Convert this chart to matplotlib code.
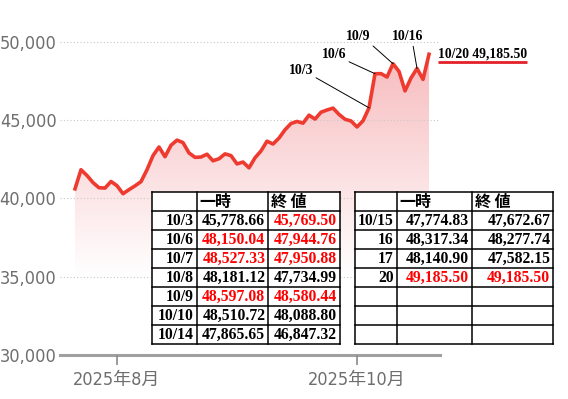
import matplotlib.pyplot as plt
import matplotlib.colors as mcolors
import numpy as np

# trading days (2025) and Nikkei closes
dates = ['7/23', '7/24', '7/25', '7/28', '7/29', '7/30', '7/31',
         '8/1', '8/4', '8/5', '8/6', '8/7', '8/8', '8/12', '8/13', '8/14', '8/15',
         '8/18', '8/19', '8/20', '8/21', '8/22', '8/25', '8/26', '8/27', '8/28', '8/29',
         '9/1', '9/2', '9/3', '9/4', '9/5', '9/8', '9/9', '9/10', '9/11', '9/12',
         '9/16', '9/17', '9/18', '9/19', '9/22', '9/24', '9/25', '9/26', '9/29', '9/30',
         '10/1', '10/2', '10/3', '10/6', '10/7', '10/8', '10/9', '10/10', '10/14',
         '10/15', '10/16', '10/17', '10/20']
closes = [40600, 41820, 41450, 41000, 40670, 40650, 41070,
          40800, 40290, 40550, 40790, 41060, 41820, 42720, 43270, 42650, 43380,
          43710, 43550, 42890, 42610, 42630, 42810, 42390, 42520, 42830, 42720,
          42190, 42310, 41940, 42580, 43020, 43640, 43460, 43840, 44370, 44770,
          44900, 44790, 45300, 45050, 45490, 45630, 45750, 45350, 45040, 44930,
          44550, 44940, 45769.50, 47944.76, 47950.88, 47734.99, 48580.44, 48088.80, 46847.32,
          47672.67, 48277.74, 47582.15, 49185.50]

tick_dates = ['8/1', '10/1']
tick_labels = ['2025年8月', '2025年10月']
y_ticks = [30000, 35000, 40000, 45000, 50000]
marked = ['10/3', '10/6', '10/9', '10/16']

header = ['', '一時', '終 値']
left_dates = ['10/3', '10/6', '10/7', '10/8', '10/9', '10/10', '10/14']
left_high = ['45,778.66', '48,150.04', '48,527.33', '48,181.12', '48,597.08', '48,510.72', '47,865.65']
left_close = ['45,769.50', '47,944.76', '47,950.88', '47,734.99', '48,580.44', '48,088.80', '46,847.32']
left_high_red = [False, True, True, False, True, False, False]
left_close_red = [True, True, True, False, True, False, False]
right_dates = ['10/15', '16', '17', '20', '', '', '']
right_high = ['47,774.83', '48,317.34', '48,140.90', '49,185.50', '', '', '']
right_close = ['47,672.67', '48,277.74', '47,582.15', '49,185.50', '', '', '']
right_high_red = [False, False, False, True, False, False, False]
right_close_red = [False, False, False, True, False, False, False]

W, H = 568, 399
plt.rcParams['font.family'] = ['DejaVu Sans', 'Noto Sans CJK JP']
plt.rcParams['font.stretch'] = 'condensed'
serif = ['Liberation Serif', 'DejaVu Serif']
cjk = ['Noto Sans CJK JP']


def draw_table(ov, cols, rows, d, hi, cl, hi_red, cl_red):
  ov.add_patch(plt.Rectangle((cols[0], rows[0]), cols[-1]-cols[0], rows[-1]-rows[0],
                             facecolor='white', edgecolor='none', zorder=4))
  for cx in cols:
    ov.plot([cx, cx], [rows[0], rows[-1]], color='black', lw=1.1, zorder=5, solid_capstyle='projecting')
  for ry in rows:
    ov.plot([cols[0], cols[-1]], [ry, ry], color='black', lw=1.1, zorder=5, solid_capstyle='projecting')
  yc = (rows[0]+rows[1])/2
  ov.text(cols[1]+3, yc, header[1], ha='left', va='center', family=cjk, weight='bold', fontsize=11.5, zorder=6)
  ov.text(cols[2]+3, yc, header[2], ha='left', va='center', family=cjk, weight='bold', fontsize=11.5, zorder=6)
  for i in range(len(d)):
    yc = (rows[i+1]+rows[i+2])/2 + 0.5
    ov.text(cols[1]-3, yc, d[i], ha='right', va='center', family=serif, weight='bold', fontsize=11.3, zorder=6)
    ov.text(cols[2]-3, yc, hi[i], ha='right', va='center', family=serif, weight='bold', fontsize=11.3,
            color='red' if hi_red[i] else 'black', zorder=6)
    ov.text(cols[3]-3, yc, cl[i], ha='right', va='center', family=serif, weight='bold', fontsize=11.3,
            color='red' if cl_red[i] else 'black', zorder=6)


def main():
  fig = plt.figure(figsize=(W/100, H/100), dpi=100)
  ax = fig.add_axes([60/W, (H-355)/H, 380/W, 325/H])

  x = np.arange(len(closes))
  ymin, ymax = 30000, 50734

  # pink gradient fill under the line
  vals = np.linspace(ymin, ymax, 300)
  t = np.clip((vals-35000)/(49500-35000), 0, 1)
  pink = np.array(mcolors.to_rgb('#f7babd'))
  img = (1-t)[:, None] + t[:, None]*pink
  im = ax.imshow(img[:, None, :], extent=[x[0], x[-1], ymin, ymax], origin='lower',
                 aspect='auto', zorder=1, interpolation='bilinear')
  poly = ax.fill_between(x, closes, ymin, facecolor='none', edgecolor='none')
  im.set_clip_path(poly.get_paths()[0], transform=ax.transData)

  ax.plot(x, closes, color='#ee3a2f', lw=2.6, zorder=3, solid_joinstyle='round')

  ax.set_xlim(-2.5, 60.83)
  ax.set_ylim(ymin, ymax)

  ax.set_yticks(y_ticks)
  ax.set_yticklabels([f'{v:,}' for v in y_ticks])
  ax.set_xticks([dates.index(d) for d in tick_dates])
  ax.set_xticklabels(tick_labels)
  ax.set_axisbelow(False)
  ax.grid(axis='y', color='#c8c8c8', linestyle=(0, (1, 2)), lw=0.8)
  ax.tick_params(axis='y', length=0, pad=2.5, labelsize=13, labelcolor='#6e6e6e')
  ax.tick_params(axis='x', length=7, width=1.2, color='#8a8a8a', pad=4.5, labelsize=13, labelcolor='#6e6e6e')
  for s in ['top', 'right', 'left']:
    ax.spines[s].set_visible(False)
  ax.spines['bottom'].set_color('#a0a0a0')
  ax.spines['bottom'].set_linewidth(2.2)

  # overlay in pixel coords (origin top-left)
  ov = fig.add_axes([0, 0, 1, 1])
  ov.set_xlim(0, W)
  ov.set_ylim(H, 0)
  ov.axis('off')
  ov.patch.set_alpha(0)
  ov.set_zorder(2)

  rows = [192.3 + 19*k for k in range(9)]
  draw_table(ov, [151.7, 196.7, 268.3, 340], rows, left_dates, left_high, left_close,
             left_high_red, left_close_red)
  draw_table(ov, [355, 396.7, 471.7, 553.3], rows, right_dates, right_high, right_close,
             right_high_red, right_close_red)

  label_pos = {'10/3': ((301, 71), (1, 0.1)), '10/6': ((334, 54), (1, 0)),
               '10/9': ((358, 37), (1, 0)), '10/16': ((408, 37), (0.65, 0))}
  for d in marked:
    (tx, ty), rp = label_pos[d]
    i = dates.index(d)
    ov.annotate(d, xy=(i, closes[i]), xycoords=ax.transData, xytext=(tx, ty), textcoords='data',
                ha='center', va='center', family=serif, weight='bold', fontsize=10,
                arrowprops=dict(arrowstyle='-', color='black', lw=0.7, shrinkA=0, shrinkB=0, relpos=rp))

  ov.text(438, 54, f'{dates[-1]} {closes[-1]:,.2f}', ha='left', va='center',
          family=serif, weight='bold', fontsize=9.8)
  ov.plot([438, 527], [62, 62], color='#e3202a', lw=2, solid_capstyle='butt')

  fig.savefig('out.png', dpi=100)


if __name__ == '__main__':
  main()
